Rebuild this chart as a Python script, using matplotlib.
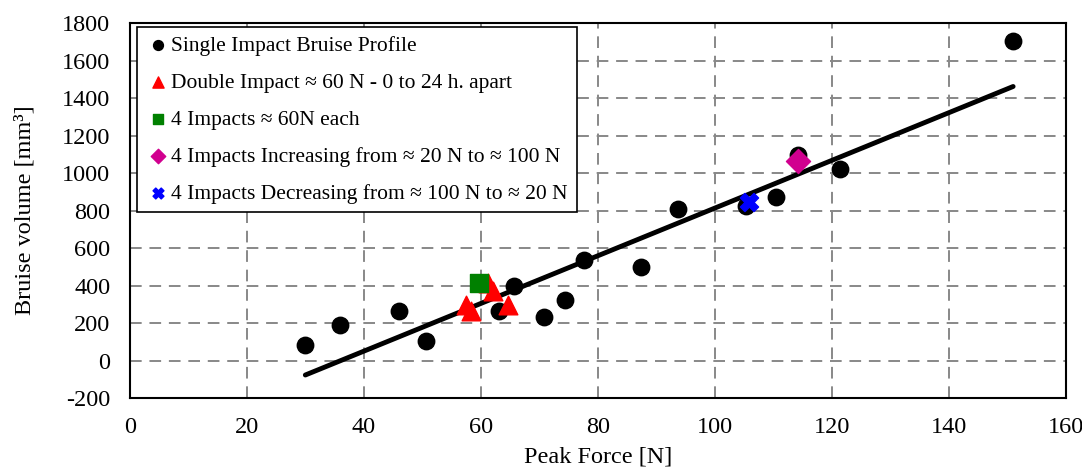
import numpy as np
import matplotlib
matplotlib.use('Agg')
import matplotlib.pyplot as plt

plt.rcParams['font.family'] = ['Liberation Serif', 'DejaVu Serif']
plt.rcParams['axes.unicode_minus'] = False

# single impact
single_x = [30, 36, 46, 50.6, 63.1, 65.6, 70.8, 74.4, 77.6, 87.3, 93.7, 105.4, 110.4, 114.2, 121.4, 151]
single_y = [85, 190, 264, 106, 264, 399, 234, 323, 536, 499, 808, 824, 874, 1096, 1020, 1704]
# double impact ~60 N
double_x = [57.4, 58.4, 61.3, 62.0, 64.7]
double_y = [296, 264, 413, 371, 296]
# 4 impacts
four_x = [59.7]
four_y = [412]
incr_x = [114.2]
incr_y = [1066]
decr_x = [105.8]
decr_y = [847]

# trend line y = slope * x + intercept
slope = 12.72
intercept = -459
fit_range = [30, 151]

fig, ax = plt.subplots(figsize=(10.82, 4.71), dpi=100)
fig.subplots_adjust(left=0.120, right=0.985, top=0.951, bottom=0.155)

fx = np.array(fit_range)
ax.plot(fx, slope * fx + intercept, color='black', lw=3.5, solid_capstyle='round', zorder=2)

ax.scatter(single_x, single_y, s=140, marker='o', color='black', zorder=3,
           label='Single Impact Bruise Profile')
ax.scatter(double_x, double_y, s=180, marker='^', color='red', zorder=4,
           label='Double Impact ≈ 60 N - 0 to 24 h. apart')
ax.scatter(four_x, four_y, s=150, marker='s', color='green', zorder=4,
           label='4 Impacts ≈ 60N each')
ax.scatter(incr_x, incr_y, s=150, marker='D', color='#d1008f', zorder=4,
           label='4 Impacts Increasing from ≈ 20 N to ≈ 100 N')
ax.scatter(decr_x, decr_y, s=170, marker='X', color='blue', zorder=4,
           label='4 Impacts Decreasing from ≈ 100 N to ≈ 20 N')

ax.set_xlim(0, 160)
ax.set_ylim(-200, 1800)
ax.set_xticks(np.arange(0, 161, 20))
ax.set_yticks(np.arange(-200, 1801, 200))
ax.tick_params(length=0, labelsize=17.5)
ax.tick_params(axis='y', pad=14)
ax.tick_params(axis='x', pad=14)
ax.grid(True, color='#888888', linestyle=(0, (6, 4)), lw=1.4)
ax.set_axisbelow(True)
for sp in ax.spines.values():
    sp.set_linewidth(1.5)

ax.set_xlabel('Peak Force [N]', fontsize=17.5, labelpad=6)
ax.set_ylabel('Bruise volume [mm³]', fontsize=17.5, labelpad=19)

leg = ax.legend(loc='upper left', fontsize=15.5, markerscale=0.6, handletextpad=0.0,
                handlelength=1.2, borderpad=0.4, labelspacing=0.78,
                borderaxespad=0.2, fancybox=False, framealpha=1, edgecolor='black',
                bbox_to_anchor=(0.003, 1.0))
leg.get_frame().set_linewidth(1.2)

fig.savefig('out.png', dpi=100)
